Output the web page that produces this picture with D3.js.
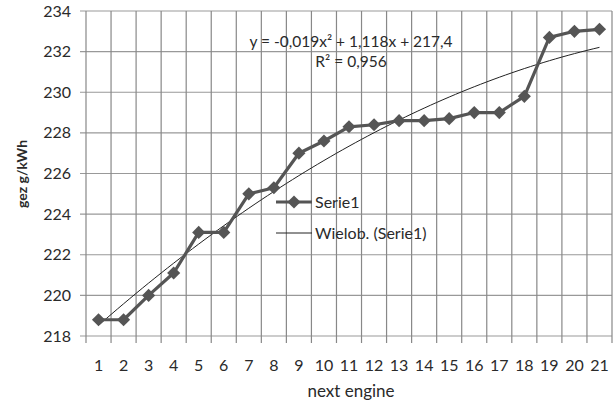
<!DOCTYPE html>
<html>
<head>
<meta charset="utf-8">
<script src="https://cdn.jsdelivr.net/npm/d3@7"></script>
<style>
  body { margin: 0; background: #fff; }
  svg text { font-family: Lato, "Open Sans", sans-serif; fill: #2a2a2a; }
</style>
</head>
<body>
<script>
// Data
const engines = d3.range(1, 22);
const gez = [218.8, 218.8, 220.0, 221.1, 223.1, 223.1, 225.0, 225.3, 227.0, 227.6, 228.3,
             228.4, 228.6, 228.6, 228.7, 229.0, 229.0, 229.8, 232.7, 233.0, 233.1];
const yTicks = [218, 220, 222, 224, 226, 228, 230, 232, 234];
const equation = "y = -0,019x² + 1,118x + 217,4";
const rSquared = "R² = 0,956";
const legendLabels = ["Serie1", "Wielob. (Serie1)"];

const width = 614, height = 402;
const margin = {top: 11, right: 2, bottom: 66, left: 86};

const svg = d3.select("body").append("svg")
  .attr("width", width)
  .attr("height", height);

const x = d3.scaleBand()
  .domain(engines)
  .range([margin.left, width - margin.right]);
const y = d3.scaleLinear()
  .domain([218, 234])
  .range([height - margin.bottom, margin.top]);

const cx = d => x(d) + x.bandwidth() / 2;

// horizontal grid
svg.append("g")
  .selectAll("line")
  .data(yTicks)
  .join("line")
  .attr("x1", margin.left - 6)
  .attr("x2", width - margin.right)
  .attr("y1", d => y(d))
  .attr("y2", d => y(d))
  .attr("stroke", "#999")
  .attr("stroke-width", 1.2);

// vertical grid on category boundaries
const bounds = engines.map(d => x(d)).concat([x(21) + x.bandwidth()]);
svg.append("g")
  .selectAll("line")
  .data(bounds)
  .join("line")
  .attr("x1", d => d)
  .attr("x2", d => d)
  .attr("y1", margin.top)
  .attr("y2", height - margin.bottom + 7)
  .attr("stroke", "#888")
  .attr("stroke-width", 1.2);

// y tick labels
svg.append("g")
  .selectAll("text")
  .data(yTicks)
  .join("text")
  .attr("x", 71)
  .attr("y", d => y(d))
  .attr("dy", "0.35em")
  .attr("text-anchor", "end")
  .style("font-size", "16px")
  .text(d => d);

// x tick labels
svg.append("g")
  .selectAll("text")
  .data(engines)
  .join("text")
  .attr("x", d => cx(d))
  .attr("y", 371)
  .attr("text-anchor", "middle")
  .style("font-size", "16px")
  .text(d => d);

// axis titles
svg.append("text")
  .attr("x", 351)
  .attr("y", 397)
  .attr("text-anchor", "middle")
  .style("font-size", "17px")
  .text("next engine");

svg.append("text")
  .attr("transform", "translate(27,174) rotate(-90)")
  .attr("text-anchor", "middle")
  .style("font-size", "14px")
  .style("font-weight", "bold")
  .text("gez g/kWh");

// polynomial (order 2) least-squares trend, as the spreadsheet computes it
function quadFit(xs, ys) {
  let s = [0, 0, 0, 0, 0], t = [0, 0, 0];
  xs.forEach((xi, i) => {
    for (let k = 0; k <= 4; k++) s[k] += Math.pow(xi, k);
    for (let k = 0; k <= 2; k++) t[k] += Math.pow(xi, k) * ys[i];
  });
  const A = [[s[0], s[1], s[2], t[0]], [s[1], s[2], s[3], t[1]], [s[2], s[3], s[4], t[2]]];
  for (let i = 0; i < 3; i++) {
    for (let j = i + 1; j < 3; j++) {
      const f = A[j][i] / A[i][i];
      for (let k = i; k < 4; k++) A[j][k] -= f * A[i][k];
    }
  }
  const c = [0, 0, 0];
  for (let i = 2; i >= 0; i--) {
    let v = A[i][3];
    for (let k = i + 1; k < 3; k++) v -= A[i][k] * c[k];
    c[i] = v / A[i][i];
  }
  return c;
}
const coef = quadFit(engines, gez);
const trendX = d3.range(1, 21.01, 0.25);
const trendLine = d3.line()
  .x(d => x(1) + x.bandwidth() / 2 + (d - 1) * x.step())
  .y(d => y(coef[0] + coef[1] * d + coef[2] * d * d));

svg.append("path")
  .datum(trendX)
  .attr("d", trendLine)
  .attr("fill", "none")
  .attr("stroke", "#222")
  .attr("stroke-width", 1);

// series line
const line = d3.line()
  .x((d, i) => cx(engines[i]))
  .y(d => y(d));

svg.append("path")
  .datum(gez)
  .attr("d", line)
  .attr("fill", "none")
  .attr("stroke", "#555")
  .attr("stroke-width", 3.2)
  .attr("stroke-linejoin", "round");

const diamond = d3.symbol().type(d3.symbolDiamond2).size(110);
svg.append("g")
  .selectAll("path")
  .data(gez)
  .join("path")
  .attr("d", diamond)
  .attr("transform", (d, i) => `translate(${cx(engines[i])},${y(d)})`)
  .attr("fill", "#555");

// equation
svg.append("text")
  .attr("x", 351)
  .attr("y", 47)
  .attr("text-anchor", "middle")
  .style("font-size", "15.5px")
  .text(equation);
svg.append("text")
  .attr("x", 351)
  .attr("y", 67)
  .attr("text-anchor", "middle")
  .style("font-size", "15.5px")
  .text(rSquared);

// legend
const legend = svg.append("g");
legend.append("line")
  .attr("x1", 276).attr("x2", 312).attr("y1", 202).attr("y2", 202)
  .attr("stroke", "#555").attr("stroke-width", 3.2);
legend.append("path")
  .attr("d", diamond)
  .attr("transform", "translate(294,202)")
  .attr("fill", "#555");
legend.append("line")
  .attr("x1", 276).attr("x2", 312).attr("y1", 233).attr("y2", 233)
  .attr("stroke", "#222").attr("stroke-width", 1);
legend.selectAll("text.lg")
  .data(legendLabels)
  .join("text")
  .attr("class", "lg")
  .attr("x", 315)
  .attr("y", (d, i) => 202 + i * 31)
  .attr("dy", "0.35em")
  .style("font-size", "16px")
  .text(d => d);
</script>
</body>
</html>
